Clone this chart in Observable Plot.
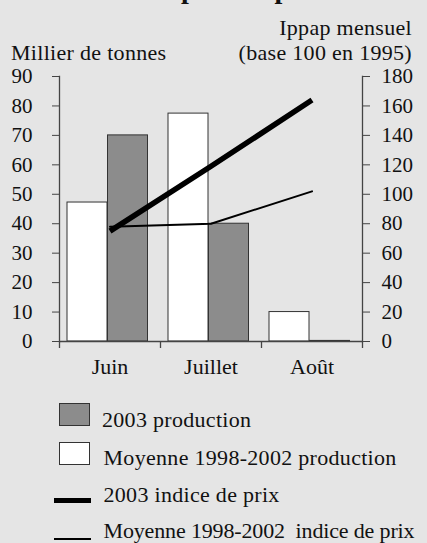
<!DOCTYPE html>
<html><head><meta charset="utf-8">
<script src="https://cdn.jsdelivr.net/npm/d3@7"></script>
<script src="https://cdn.jsdelivr.net/npm/@observablehq/plot@0.6"></script>
<style>
body{margin:0;background:#e5e5e5;}
#wrap{position:relative;width:427px;height:543px;overflow:hidden;font-family:"Liberation Serif","Times New Roman",serif;color:#111;}
#chart{position:absolute;left:0;top:0;}
.t{position:absolute;font-size:22px;line-height:22px;letter-spacing:0.3px;white-space:pre;}
.title{position:absolute;left:0;top:-25px;font-size:28px;line-height:28px;letter-spacing:1px;font-weight:bold;white-space:pre;}
.sw{position:absolute;width:29px;height:21px;border:1px solid #333;}
.ln{position:absolute;background:#000;}
</style></head><body>
<div id="wrap">
  <div class="title" id="title"><span id="tpre">Abricot : </span>prix et production</div>
  <div class="t" style="left:11px;top:41.5px;">Millier de tonnes</div>
  <div class="t" style="right:15px;top:16.5px;text-align:right;">Ippap mensuel</div>
  <div class="t" style="right:15px;top:42px;text-align:right;">(base 100 en 1995)</div>
  <div id="chart"></div>
  <div id="legend"></div>
</div>
<script>
const months = ["Juin", "Juillet", "Août"];
const prod2003 = [70, 40, 0.2];
const prodMoy = [47.2, 77.4, 10];
const prix2003 = [75, 119, 164];
const prixMoy = [78, 80, 102];
const leftTicks = [0, 10, 20, 30, 40, 50, 60, 70, 80, 90];
const rightTicks = [0, 20, 40, 60, 80, 100, 120, 140, 160, 180];
const legendLabels = ["2003 production", "Moyenne 1998-2002 production", "2003 indice de prix", "Moyenne 1998-2002  indice de prix"];

const W = 427, H = 392, mL = 59, mR = 65, mT = 76, mB = H - 341;
const half = (W - mL - mR) / months.length / 2;
const axisColor = "#444";
const gray = "#8c8c8c";
const ratio = rightTicks[rightTicks.length - 1] / leftTicks[leftTicks.length - 1];

const rows = months.map((m, i) => ({month: m, p03: prod2003[i], pm: prodMoy[i], i03: prix2003[i] / ratio, im: prixMoy[i] / ratio}));

const chart = Plot.plot({
  width: W, height: H,
  marginLeft: mL, marginRight: mR, marginTop: mT, marginBottom: mB,
  style: {background: "transparent", fontFamily: "Liberation Serif, Times New Roman, serif", fontSize: "21px", color: "#111", overflow: "visible"},
  x: {type: "band", domain: months, padding: 0, label: null},
  y: {domain: [0, 90], label: null},
  marks: [
    Plot.barY(rows, {x: "month", y: "pm", fill: "#fff", stroke: "#333", strokeWidth: 1, insetLeft: 8, insetRight: 53}),
    Plot.barY(rows, {x: "month", y: "p03", fill: gray, stroke: "#333", strokeWidth: 1, insetLeft: 48.5, insetRight: 12.5}),
    Plot.ruleY([0], {stroke: axisColor, strokeWidth: 1.3}),
    Plot.frame({anchor: "left", stroke: axisColor, strokeWidth: 1.3}),
    Plot.frame({anchor: "right", stroke: axisColor, strokeWidth: 1.3}),
    Plot.ruleX(months, {x: d => d, dx: -half, y1: 0, y2: 0, insetBottom: -7, stroke: axisColor, strokeWidth: 1.3}),
    Plot.ruleX([months[months.length - 1]], {x: d => d, dx: half, y1: 0, y2: 0, insetBottom: -7, stroke: axisColor, strokeWidth: 1.3}),
    Plot.line(rows, {x: "month", y: "im", stroke: "#000", strokeWidth: 2}),
    Plot.line(rows, {x: "month", y: "i03", stroke: "#000", strokeWidth: 5.5, strokeLinecap: "butt"}),
    Plot.axisY(leftTicks, {anchor: "left", tickSize: 7, tickPadding: 20, fontSize: 21, stroke: axisColor, label: null}),
    Plot.axisY(rightTicks.map(v => v / ratio), {anchor: "right", tickSize: 7, tickPadding: 12, fontSize: 21, stroke: axisColor, label: null, tickFormat: d => String(d * ratio)}),
    Plot.axisX({tickSize: 0, tickPadding: 16.5, fontSize: 22, label: null})
  ]
});
document.getElementById("chart").appendChild(chart);

// title: only its descenders show at the top edge, as in the reference
const title = document.getElementById("title");
const preW = document.getElementById("tpre").getBoundingClientRect().width;
title.style.left = (181 - preW) + "px";

// legend
const lg = document.getElementById("legend");
const items = [
  {kind: "sw", fill: gray, top: 403, textTop: 408.5, textLeft: 102, ls: "0.3px"},
  {kind: "sw", fill: "#fff", top: 442, textTop: 446.5, textLeft: 103.5, ls: "0.3px"},
  {kind: "ln", h: 5, top: 498, textTop: 483.5, textLeft: 103.5, ls: "0.3px"},
  {kind: "ln", h: 2.5, top: 537.5, textTop: 519.5, textLeft: 103.5, ls: "-0.15px"}
];
items.forEach((it, k) => {
  const s = document.createElement("div");
  if (it.kind === "sw") {
    s.className = "sw";
    s.style.left = "59px"; s.style.top = it.top + "px"; s.style.background = it.fill;
  } else {
    s.className = "ln";
    s.style.left = "54px"; s.style.width = "37px"; s.style.top = it.top + "px"; s.style.height = it.h + "px";
  }
  lg.appendChild(s);
  const t = document.createElement("div");
  t.className = "t";
  t.style.left = it.textLeft + "px"; t.style.top = it.textTop + "px"; t.style.letterSpacing = it.ls;
  t.textContent = legendLabels[k];
  lg.appendChild(t);
});
</script>
</body></html>
